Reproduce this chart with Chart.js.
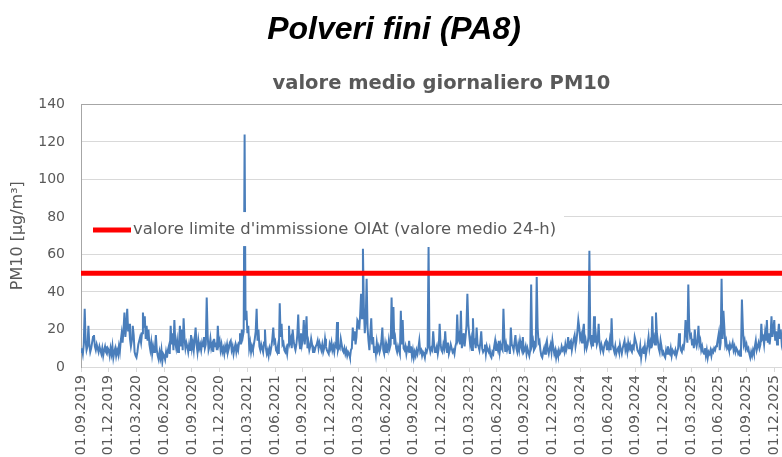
<!DOCTYPE html>
<html>
<head>
<meta charset="utf-8">
<script src="https://cdn.jsdelivr.net/npm/chart.js@4.4.1/dist/chart.umd.min.js"></script>
<style>
  html, body { margin: 0; padding: 0; background: #fff; overflow: hidden; width: 782px; height: 457px; }
  #chart { position: absolute; top: 0; left: 0; }
  #title { position: absolute; top: 10px; left: 0; width: 788px; text-align: center; z-index: 1;
    font: italic bold 32px "Liberation Sans", Arial, sans-serif; line-height: 36px; color: #000; }
</style>
</head>
<body>
<canvas id="chart" width="830" height="480"></canvas>
<div id="title">Polveri fini (PA8)</div>
<script>
// tick labels, one per quarter (x = quarter index)
const quarterLabels = [
  '01.09.2019', '01.12.2019', '01.03.2020', '01.06.2020', '01.09.2020', '01.12.2020',
  '01.03.2021', '01.06.2021', '01.09.2021', '01.12.2021', '01.03.2022', '01.06.2022',
  '01.09.2022', '01.12.2022', '01.03.2023', '01.06.2023', '01.09.2023', '01.12.2023',
  '01.03.2024', '01.06.2024', '01.09.2024', '01.12.2024', '01.03.2025', '01.06.2025',
  '01.09.2025', '01.12.2025'
];

// PM10 daily mean, read off the picture about every 3 days (30 values per quarter)
// one array per measuring year (Sep - Aug), split by quarter
const pm10_2019_20 = [
  [8,10,7,12,31,14,9,11,22,12, 8,10,13,16,17,11,9,12,10,8, 11,9,7,10,6,9,11,8,7,10],
  [9,6,10,7,11,5,8,10,6,9, 7,11,8,14,18,13,20,29,16,22, 31,19,23,15,11,14,22,17,8,6],
  [5,8,12,14,16,13,18,29,21,27, 15,22,14,20,12,9,13,7,11,8, 10,17,9,6,4,8,5,9,3,7],
  [6,4,8,5,9,11,7,22,12,18, 9,25,13,10,14,8,12,22,11,20, 9,26,15,10,13,11,8,12,9,17]
];
const pm10_2020_21 = [
  [10,13,9,15,21,12,8,14,10,12, 9,13,11,16,10,12,37,17,9,11, 15,10,12,8,15,11,13,9,22,12],
  [14,9,12,8,10,7,11,9,12,8, 10,13,14,9,11,7,10,12,8,11, 9,13,18,12,20,16,19,124,25,30],
  [18,22,10,13,8,11,9,12,15,19, 31,14,20,11,9,12,10,8,13,20, 10,7,9,6,10,8,11,15,21,13],
  [14,9,8,11,7,34,16,23,12,13, 9,8,10,7,12,22,13,15,10,20, 14,11,9,12,17,28,14,10,18,12]
];
const pm10_2021_22 = [
  [15,25,12,18,27,10,13,9,11,15, 12,8,10,9,11,12,14,10,13,11, 9,12,8,10,15,11,9,8,7,12],
  [10,13,9,11,8,12,11,24,9,11, 10,15,12,9,8,10,7,9,6,8, 7,5,9,10,21,14,19,12,16,25],
  [24,20,28,39,26,63,32,18,25,47, 21,14,9,18,26,12,16,8,11,7, 13,9,11,8,10,14,21,9,7,12],
  [8,11,9,14,10,12,37,15,32,12, 15,10,8,11,9,7,30,12,25,10, 9,11,7,10,9,14,8,11,6,9]
];
const pm10_2022_23 = [
  [5,8,6,9,7,10,14,8,9,6, 8,7,5,9,8,10,64,11,8,10, 9,19,12,8,9,11,7,10,23,12],
  [9,8,12,10,19,11,8,13,7,9, 12,10,8,9,7,11,13,28,15,17, 12,30,10,14,18,11,16,22,39,23],
  [17,12,15,9,26,13,14,10,21,12, 11,9,13,19,10,8,9,12,7,11, 9,8,10,6,5,8,7,11,14,9],
  [11,9,14,8,12,10,9,31,16,8, 12,9,11,10,7,21,12,11,9,13, 17,10,8,12,9,14,11,9,16,8]
];
const pm10_2023_24 = [
  [9,11,7,10,8,6,9,44,12,14, 9,10,11,48,21,13,14,9,6,5, 8,10,7,12,14,9,7,10,12,8],
  [14,10,7,9,5,8,6,9,7,8, 11,9,10,8,12,9,11,16,10,13, 14,9,12,15,17,11,14,19,25,21],
  [15,17,13,19,23,11,14,10,12,16, 62,14,12,17,11,27,13,17,12,14, 23,12,9,12,10,8,11,13,14,9],
  [12,10,14,9,26,12,10,8,11,7, 9,10,8,12,9,7,10,12,14,9, 11,8,13,10,12,9,8,11,10,16]
];
const pm10_2024_25 = [
  [14,12,9,8,7,11,5,9,10,7, 11,6,9,12,16,10,13,10,27,14, 16,12,29,18,14,10,8,14,11,7],
  [8,6,5,9,7,11,8,7,10,6, 9,8,7,9,6,8,10,18,12,9, 8,11,10,14,25,18,13,44,21,16],
  [17,12,15,10,20,13,11,14,22,12, 14,9,11,8,7,10,6,9,5,8, 7,9,6,9,8,10,9,11,12,15],
  [18,9,13,47,15,30,21,12,14,10, 11,9,12,10,11,13,9,11,8,10, 9,7,8,6,9,36,21,12,14,10]
];
const pm10_2025_26 = [
  [12,9,10,7,5,8,6,9,7,11, 14,9,11,13,10,12,23,15,16,12, 18,14,25,13,18,12,17,27,16,20],
  [25,14,19,12,17,23,15,20,13,16]
];

const limitValue = 50;
const limitLabel = "valore limite d'immissione OIAt (valore medio 24-h)";

const years = [pm10_2019_20, pm10_2020_21, pm10_2021_22, pm10_2022_23, pm10_2023_24, pm10_2024_25, pm10_2025_26];
const SAMPLES_PER_QUARTER = 30;

const pm10Points = [];
years.forEach((quarters, y) => {
  quarters.forEach((vals, q) => {
    vals.forEach((v, i) => {
      pm10Points.push({ x: y * 4 + q + i / SAMPLES_PER_QUARTER, y: v });
    });
  });
});

const grey = '#595959';
const font = 'DejaVu Sans';

// legend box sitting inside the plot, like the original
const limitLegend = {
  id: 'limitLegend',
  afterDatasetsDraw(chart) {
    const { ctx, chartArea, scales: { y } } = chart;
    const cy = y.getPixelForValue(73);
    ctx.save();
    ctx.fillStyle = '#fff';
    ctx.fillRect(chartArea.left + 1, cy - 18, 482, 34);
    ctx.strokeStyle = '#ff0000';
    ctx.lineWidth = 5;
    ctx.beginPath();
    ctx.moveTo(chartArea.left + 12, cy);
    ctx.lineTo(chartArea.left + 50, cy);
    ctx.stroke();
    ctx.fillStyle = grey;
    ctx.font = '16.4px "' + font + '"';
    ctx.textBaseline = 'middle';
    ctx.fillText(chart.data.datasets[0].label, chartArea.left + 52, cy);
    ctx.restore();
  }
};

new Chart(document.getElementById('chart'), {
  type: 'line',
  data: {
    datasets: [
      {
        label: limitLabel,
        data: [{ x: 0, y: limitValue }, { x: 26, y: limitValue }],
        borderColor: '#ff0000',
        borderWidth: 5,
        pointRadius: 0
      },
      {
        label: 'PM10',
        data: pm10Points,
        borderColor: '#4a7ebb',
        borderWidth: 2,
        pointRadius: 0,
        tension: 0
      }
    ]
  },
  options: {
    responsive: false,
    animation: false,
    layout: { padding: { top: 72, left: 1, right: 28, bottom: 0 } },
    plugins: {
      legend: { display: false },
      tooltip: { enabled: false },
      title: {
        display: true,
        text: 'valore medio giornaliero PM10',
        fullSize: false,
        color: grey,
        font: { family: font, size: 19.5, weight: 'bold' },
        padding: { top: 0, bottom: 9 }
      }
    },
    scales: {
      x: {
        type: 'linear',
        min: 0,
        max: 26,
        afterFit: (s) => { s.height = 113; },
        ticks: {
          stepSize: 1,
          autoSkip: false,
          minRotation: 90,
          maxRotation: 90,
          padding: 3,
          color: grey,
          font: { family: font, size: 14 },
          callback: (v) => quarterLabels[v]
        },
        grid: { drawOnChartArea: false, drawTicks: true, tickLength: 5, color: '#d9d9d9' },
        border: { color: '#d9d9d9' }
      },
      y: {
        min: 0,
        max: 140,
        afterFit: (s) => { s.width = 80; },
        ticks: { stepSize: 20, padding: 16, color: grey, font: { family: font, size: 14 } },
        grid: {
          drawTicks: false,
          color: (c) => (c.tick && c.tick.value === 140 ? '#a6a6a6' : '#d9d9d9')
        },
        border: { color: '#a6a6a6' },
        title: {
          display: true,
          text: 'PM10 [µg/m³]',
          color: grey,
          font: { family: font, size: 16 },
          padding: { top: 7, bottom: 0 }
        }
      }
    }
  },
  plugins: [limitLegend]
});
</script>
</body>
</html>
